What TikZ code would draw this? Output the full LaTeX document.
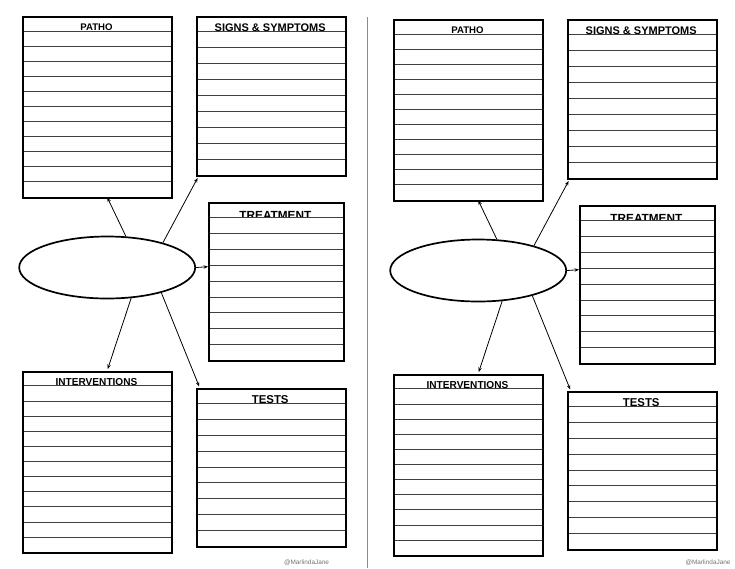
\documentclass[tikz,border=0pt]{standalone}
\usepackage{fontspec}
\setmainfont{Liberation Sans}[BoldFont={Liberation Sans Bold}]
\usetikzlibrary{shapes.geometric,arrows.meta}
\tikzset{
  rowline/.style={line width=0.9pt, draw=black!75},
  boxst/.style={draw=black, line width=1.8pt, inner sep=0pt, anchor=north west},
  ovalst/.style={ellipse, draw=black, line width=1.7pt, inner sep=0pt, minimum width=176pt, minimum height=62pt},
  arr/.style={line width=0.8pt, -{Stealth[length=4.5pt,width=3.5pt]}},
  ttl/.style={anchor=base, inner sep=0pt},
  divider/.style={draw=black!45, line width=1.3pt},
  wmark/.style={text=black!55, font=\fontsize{6.4}{6.4}\selectfont, inner sep=0pt}
}
% #1 name, #2 x1, #3 y1, #4 x2, #5 y2, #6 rows, #7 title, #8 font size, #9 baseline shift
\newcommand{\linedbox}[9]{%
  \pgfmathsetmacro{\bw}{#4-#2}%
  \pgfmathsetmacro{\bh}{#5-#3}%
  \pgfmathsetmacro{\rh}{\bh/#6}%
  \pgfmathtruncatemacro{\nm}{#6-1}%
  \node[ttl] (#1-title) at ({(#2+#4)/2},{#3+\rh+#9}) {\fontsize{#8}{#8}\selectfont\bfseries #7};
  \fill[white] (#2,{#3+\rh}) rectangle (#4,{#3+\rh+4});
  \foreach \i in {1,...,\nm} {\draw[rowline] (#2,{#3+\i*\rh}) -- (#4,{#3+\i*\rh});}
  \node[boxst, minimum width=\bw pt, minimum height=\bh pt] (#1) at (#2,#3) {};
}
\newcommand{\panel}{%
  \linedbox{patho}{22}{16}{171}{197}{12}{PATHO}{9.6}{-0.6}
  \linedbox{signs}{195.7}{16}{344.7}{175}{10}{SIGNS \& SYMPTOMS}{11}{0}
  \linedbox{treat}{208}{202}{342.7}{360.3}{10}{TREATMENT}{11.8}{1.6}
  \linedbox{interv}{22}{370.7}{171}{552.3}{12}{INTERVENTIONS}{10.1}{-0.4}
  \linedbox{tests}{195.7}{387.7}{344.7}{546.3}{10}{TESTS}{11.4}{0}
  \node[ovalst] (oval) at (107.2,267.5) {};
  \coordinate (pa) at (107.3,197.5);
  \coordinate (sa) at (197.6,178);
  \coordinate (ta) at (208,266.7);
  \coordinate (ia) at (107.7,369);
  \coordinate (ea) at (199.2,386.5);
  \draw[arr] (oval.59) -- (pa);
  \draw[arr] (oval.24) -- (sa);
  \draw[arr] (oval.east) -- (ta);
  \draw[arr] (oval.-52) -- (ia);
  \draw[arr] (oval.-25) -- (ea);
}
\begin{document}
\begin{tikzpicture}[x=1pt,y=-1pt]
  \useasboundingbox (0,0) rectangle (735,568);
  \fill[white] (0,0) rectangle (735,568);
  \begin{scope}[name prefix=L-]
    \panel
  \end{scope}
  \begin{scope}[name prefix=R-, shift={(371,3)}]
    \panel
  \end{scope}
  \coordinate (dtop) at (367.7,17);
  \coordinate (dbot) at (367.7,568);
  \draw[divider] (dtop) -- (dbot);
  \node[wmark] (wm1) at (306.5,563) {@MarlindaJane};
  \node[wmark] (wm2) at (708,563) {@MarlindaJane};
\end{tikzpicture}
\end{document}
